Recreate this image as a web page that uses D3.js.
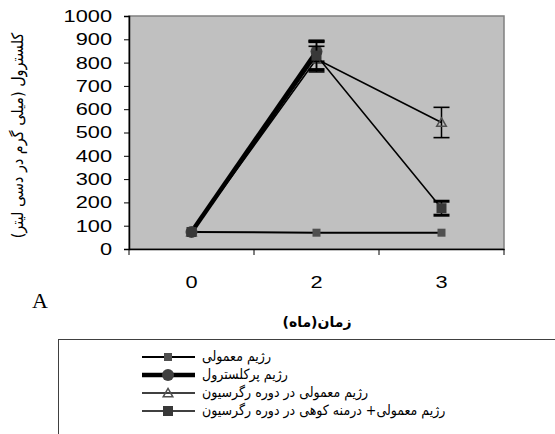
<!DOCTYPE html>
<html>
<head>
<meta charset="utf-8">
<script src="https://cdn.jsdelivr.net/npm/d3@7"></script>
<style>
  body { margin: 0; background: #fff; }
  svg { display: block; }
  .tick text { font-family: Arial, "Liberation Sans", sans-serif; font-size: 17px; fill: #000; }
</style>
</head>
<body>
<div id="viz"></div>
<script>
const months = ['0', '2', '3'];
const yTicks = [0, 100, 200, 300, 400, 500, 600, 700, 800, 900, 1000];

const seriesNames = [
  'رژیم معمولی',
  'رژیم پرکلسترول',
  'رژیم معمولی در دوره رگرسیون',
  'رژیم معمولی+ درمنه کوهی در دوره رگرسیون'
];
const normalDiet = [73, 70, 70];
const highChol = [73, 848, null];
const regression = [73, 815, 543];
const regressionHerb = [73, 830, 175];

const highCholErr = [0, 45, null];
const regressionErr = [0, 55, 65];
const regressionHerbErr = [0, 60, 30];

const width = 555;
const height = 434;
const plot = { left: 129, right: 504, top: 16, bottom: 249 };

const svg = d3.select('#viz').append('svg')
  .attr('width', width)
  .attr('height', height);

const xScale = d3.scaleBand().domain(months).range([plot.left, plot.right]).padding(0);
const cx = (m) => xScale(m) + xScale.bandwidth() / 2;
const yScale = d3.scaleLinear().domain([0, 1000]).range([plot.bottom, plot.top]);

// plot background
svg.append('rect')
  .attr('x', plot.left).attr('y', plot.top)
  .attr('width', plot.right - plot.left).attr('height', plot.bottom - plot.top)
  .attr('fill', '#c0c0c0')
  .attr('stroke', '#808080').attr('stroke-width', 1.5);

// axes
const yAxis = svg.append('g')
  .attr('transform', `translate(${plot.left}, 0)`)
  .call(d3.axisLeft(yScale).tickValues(yTicks).tickSize(5).tickPadding(12).tickFormat(d3.format('d')));
yAxis.select('.domain').attr('stroke', '#000').attr('stroke-width', 1.5);

const xAxis = svg.append('g')
  .attr('transform', `translate(0, ${plot.bottom})`)
  .call(d3.axisBottom(xScale).tickSize(0).tickPadding(27));
xAxis.select('.domain').attr('stroke', '#000').attr('stroke-width', 1.5);

// the reference digits are drawn wide
svg.selectAll('.tick text')
  .attr('textLength', function () { return this.getComputedTextLength() * 1.28; })
  .attr('lengthAdjust', 'spacingAndGlyphs');

xAxis.selectAll('.bound')
  .data(months.map((m) => xScale(m)).concat([plot.right]))
  .enter().append('line')
    .attr('x1', (d) => d).attr('x2', (d) => d)
    .attr('y1', 0).attr('y2', 6)
    .attr('stroke', '#000');

// series
const series = [
  { values: normalDiet, err: null, width: 2, marker: 'smallSquare' },
  { values: highChol, err: highCholErr, width: 4.5, marker: 'circle' },
  { values: regression, err: regressionErr, width: 1.6, marker: 'triangle' },
  { values: regressionHerb, err: regressionHerbErr, width: 1.6, marker: 'square' }
];

const line = d3.line()
  .defined((d) => d.v !== null)
  .x((d) => cx(d.m))
  .y((d) => yScale(d.v));

function drawMarker(g, type, x, y) {
  if (type === 'smallSquare') {
    g.append('rect').attr('x', x - 4).attr('y', y - 4).attr('width', 8).attr('height', 8)
      .attr('fill', '#505050');
  } else if (type === 'circle') {
    g.append('circle').attr('cx', x).attr('cy', y).attr('r', 6).attr('fill', '#404040');
  } else if (type === 'triangle') {
    g.append('path')
      .attr('d', d3.symbol(d3.symbolTriangle, 40)())
      .attr('transform', `translate(${x}, ${y + 1})`)
      .attr('fill', 'none').attr('stroke', '#505050').attr('stroke-width', 1.5);
  } else {
    g.append('rect').attr('x', x - 5).attr('y', y - 5).attr('width', 10).attr('height', 10)
      .attr('fill', '#383838');
  }
}

const marks = svg.append('g');
series.forEach((s, si) => {
  const pts = months.map((m, i) => ({ m: m, v: s.values[i], e: s.err ? s.err[i] : null }));
  marks.append('path')
    .datum(pts)
    .attr('d', line)
    .attr('fill', 'none')
    .attr('stroke', '#000')
    .attr('stroke-width', s.width);

  pts.forEach((p) => {
    if (p.v === null || !p.e) return;
    const x = cx(p.m);
    const capW = si === 2 ? 1.6 : 3;
    [p.v - p.e, p.v + p.e].forEach((v) => {
      marks.append('line')
        .attr('x1', x - 8).attr('x2', x + 8)
        .attr('y1', yScale(v)).attr('y2', yScale(v))
        .attr('stroke', '#000').attr('stroke-width', capW);
    });
    marks.append('line')
      .attr('x1', x).attr('x2', x)
      .attr('y1', yScale(p.v - p.e)).attr('y2', yScale(p.v + p.e))
      .attr('stroke', '#000').attr('stroke-width', 1.5);
  });

  pts.forEach((p) => {
    if (p.v === null) return;
    drawMarker(marks, s.marker, cx(p.m), yScale(p.v));
  });
});

// axis titles
svg.append('text')
  .attr('transform', `translate(18, ${(plot.top + plot.bottom) / 2 + 3}) rotate(-90)`)
  .attr('text-anchor', 'middle')
  .attr('dominant-baseline', 'middle')
  .style('font-family', '"DejaVu Sans Condensed", "DejaVu Sans", serif')
  .style('font-size', '16px')
  .text('کلسترول (میلی گرم در دسی لیتر)');

svg.append('text')
  .attr('x', 317).attr('y', 327)
  .attr('text-anchor', 'middle')
  .style('font-family', '"DejaVu Sans", sans-serif')
  .style('font-size', '14px')
  .style('font-weight', 'bold')
  .text('زمان(ماه)');

svg.append('text')
  .attr('x', 32).attr('y', 308)
  .style('font-family', '"Liberation Serif", "Times New Roman", serif')
  .style('font-size', '22px')
  .text('A');

// legend
const legend = svg.append('g');
legend.append('rect')
  .attr('x', 58.5).attr('y', 339.5)
  .attr('width', 520).attr('height', 120)
  .attr('fill', '#fff')
  .attr('stroke', '#404040').attr('stroke-width', 1);

const legendY = d3.scalePoint().domain(d3.range(seriesNames.length)).range([357, 411]);
seriesNames.forEach((name, i) => {
  const y = legendY(i);
  legend.append('line')
    .attr('x1', 142).attr('x2', 195)
    .attr('y1', y).attr('y2', y)
    .attr('stroke', '#000')
    .attr('stroke-width', series[i].width);
  drawMarker(legend, series[i].marker, 168, y);
  legend.append('text')
    .attr('x', 202).attr('y', y)
    .attr('dominant-baseline', 'middle')
    .style('font-family', '"DejaVu Sans Condensed", "DejaVu Sans", serif')
    .style('font-size', '14px')
    .text(name);
});
</script>
</body>
</html>
